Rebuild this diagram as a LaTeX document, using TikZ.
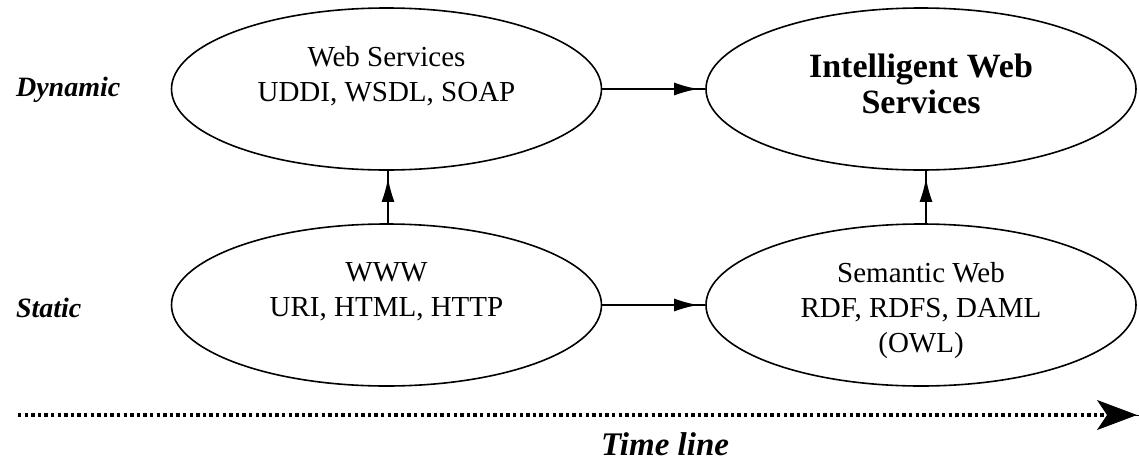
\documentclass[tikz,border=0pt]{standalone}
\usepackage{fontspec}
\setmainfont{Liberation Serif}
\usetikzlibrary{arrows.meta,shapes.geometric}
\begin{document}
\begin{tikzpicture}[x=0.5pt,y=-0.5pt,
  stage/.style={ellipse,draw,line width=0.8pt,inner sep=0pt,
                minimum width=215pt,minimum height=81pt},
  stagetext/.style={align=center,font=\fontsize{14.5}{17.5}\selectfont},
  rowlabel/.style={anchor=west,font=\fontsize{14}{16}\selectfont\bfseries\itshape},
  link/.style={line width=0.9pt},
  linkhead/.style={line width=0.9pt,-{Latex[length=12pt,width=6.5pt]},shorten >=3.5pt}
]
\useasboundingbox (0,0) rectangle (1139,461);

% the four development stages
\node[stage] (ws)  at (386.5,89)  {};
\node[stage] (iws) at (921,89)    {};
\node[stage] (www) at (386.5,305) {};
\node[stage] (sw)  at (921,305)   {};

\node[stagetext] (wst)  at (386.5,76) {Web Services\\UDDI, WSDL, SOAP};
\node[stagetext,font=\fontsize{17}{18}\selectfont\bfseries] (iwst) at (921,84) {Intelligent Web\\Services};
\node[stagetext] (wwwt) at (386.5,292) {WWW\\URI, HTML, HTTP};
\node[stagetext] (swt)  at (921,311) {Semantic Web\\RDF, RDFS, DAML\\(OWL)};

% row labels
\node[rowlabel] (dyn) at (9,90)  {Dynamic};
\node[rowlabel] (sta) at (9,308) {Static};

% transitions between stages
\draw[link] (ws.east) -- (iws.west);
\draw[linkhead] (ws.east) -- (iws.west);
\draw[link] (www.east) -- (sw.west);
\draw[linkhead] (www.east) -- (sw.west);
\draw[link] ([xshift=0.75pt]www.north) -- ([xshift=0.75pt]ws.south);
\draw[linkhead] ([xshift=0.75pt]www.north) -- ([xshift=0.75pt]ws.south);
\draw[link] ([xshift=2.5pt]sw.north) -- ([xshift=2.5pt]iws.south);
\draw[linkhead] ([xshift=2.5pt]sw.north) -- ([xshift=2.5pt]iws.south);

% time axis
\coordinate (t0) at (18,415);
\coordinate (t1) at (1137,415);
\draw[line width=1.6pt,dash pattern=on 1.7pt off 1.6pt,shorten >=12pt] (t0) -- (t1);
\draw[line width=0.5pt,-{Stealth[length=20pt,width=15pt,inset=5pt]},shorten <=1100pt] (t0) -- (t1);
\node[font=\fontsize{16.5}{18}\selectfont\bfseries\itshape] (tl) at (665,444) {Time line};
\end{tikzpicture}
\end{document}
